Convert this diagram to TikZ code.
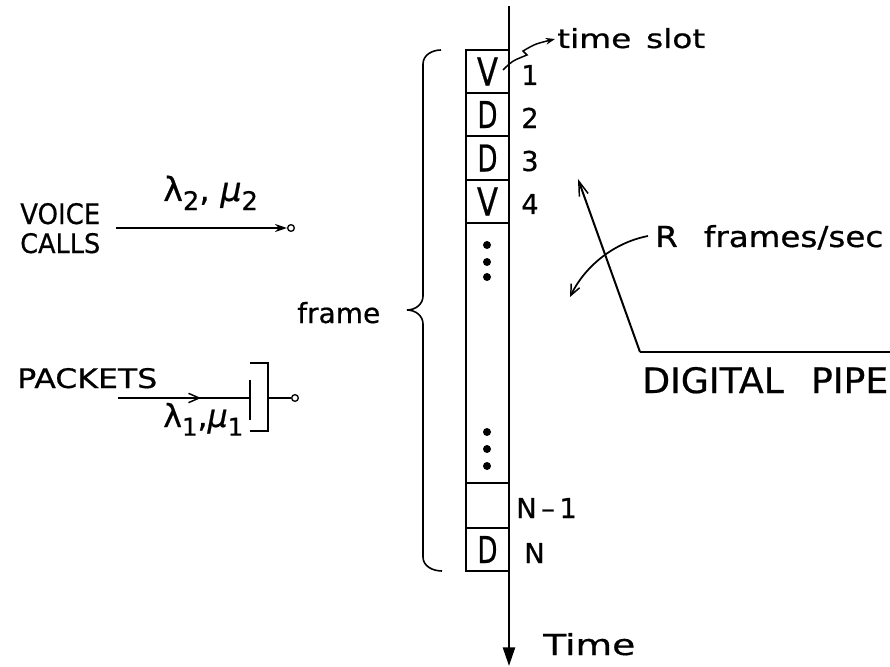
\documentclass[tikz,border=0pt]{standalone}
\usepackage{fontspec}
\usepackage{graphicx}
\setmainfont[FakeBold=0.6]{DejaVu Sans}
\usetikzlibrary{arrows.meta}
\newcommand{\fit}[3]{\resizebox{#1}{#2}{#3}}
\newcommand{\numf}{\fontsize{20.5}{24}\selectfont}
\newcommand{\grk}{\fontsize{22}{26}\selectfont}
\newcommand{\mysub}[1]{\raisebox{-6pt}{\fontsize{17}{17}\selectfont #1}}
\tikzset{
  txt/.style={inner sep=0pt, anchor=base west},
  num/.style={inner sep=0pt, anchor=base west, font=\numf},
  slot/.style={draw, line width=1.3pt, minimum width=32.25pt, inner sep=0pt},
  term/.style={circle, draw, line width=1pt, inner sep=0pt, minimum size=5pt},
  wire/.style={line width=1.5pt},
  dot/.style={circle, fill, inner sep=0pt, minimum size=6pt},
  barb/.style={-{Straight Barb[length=8pt,width=7pt,line width=1.1pt]}},
}
\begin{document}
\begin{tikzpicture}[x=0.75pt,y=-0.75pt]
\useasboundingbox (0,0) rectangle (890,667);
% slots
\node[slot, minimum height=32.25pt] (s1) at (487.5,71.5) {\fit{15.75pt}{21pt}{V}};
\node[slot, minimum height=32.25pt] (s2) at (487.5,114.5) {\fit{15pt}{20.25pt}{D}};
\node[slot, minimum height=33pt] (s3) at (487.5,158) {\fit{15pt}{20.25pt}{D}};
\node[slot, minimum height=32.25pt] (s4) at (487.5,201.5) {\fit{15.75pt}{21pt}{V}};
\node[slot, minimum height=195pt] (s5) at (487.5,353) {};
\node[slot, minimum height=33.75pt] (s6) at (487.5,505.5) {};
\node[slot, minimum height=32.25pt] (s7) at (487.5,549.5) {\fit{15pt}{20.25pt}{D}};
\foreach \y [count=\i] in {245,262,277,432,449,466} \node[dot] (d\i) at (487,\y) {};
% time axis
\coordinate (ttop) at (509,6);
\coordinate (tbot) at (509,666);
\draw[line width=1.9pt, -{Triangle[length=14pt,width=9pt]}] (ttop) -- (tbot);
% slot numbers
\node[num] (n1) at (521,85) {1};
\node[num] (n2) at (521,128) {2};
\node[num] (n3) at (521,171) {3};
\node[num] (n4) at (521,214) {4};
\node[num] (n5) at (516,518) {N\,–\,1};
\node[num] (n6) at (524,563) {N};
% time slot
\node[txt] (ts) at (557,48) {\fit{111pt}{15pt}{time\hspace{0.45em}slot}};
\coordinate (tsA) at (503,70);
\coordinate (tsB) at (555,39);
\draw[line width=1.1pt, -{Stealth[length=7pt,width=5pt]}] (tsA) .. controls (512,61) .. (527,55) -- (523,51) .. controls (535,44) .. (tsB);
% brace
\node[txt] (fr) at (297,323) {\fit{62.25pt}{15.75pt}{frame}};
\coordinate (bt) at (441,50);
\coordinate (bb) at (442,571);
\coordinate (bm) at (407,310);
\draw[line width=1.2pt] (bt) to[out=180,in=90] (423,64) -- (423,296) to[out=270,in=0] (bm) to[out=0,in=90] (423,324) -- (423,557) to[out=270,in=180] (bb);
% voice calls
\node[txt] (vo) at (20,224) {\fit{60pt}{15.75pt}{VOICE}};
\node[txt] (ca) at (20,253) {\fit{60pt}{15pt}{CALLS}};
\coordinate (va) at (116,228);
\node[term] (vt) at (291,228) {};
\draw[wire, -{Stealth[length=9pt,width=6pt]}] (va) -- (vt.west);
\node[txt] (vl) at (163,201) {\resizebox{71pt}{!}{\grk λ\mysub{2}, {\itshape μ}\mysub{2}}};
% packets
\node[txt] (pk) at (17,388) {\fit{105pt}{15pt}{PACKETS}};
\coordinate (pa) at (118,398);
\coordinate (pm) at (201,398);
\coordinate (pb) at (250,398);
\coordinate (bar1) at (250,380);
\coordinate (bar2) at (250,420);
\coordinate (br1) at (250,363);
\coordinate (br2) at (250,431);
\coordinate (brx) at (268,398);
\node[term] (pt) at (295,398) {};
\draw[wire] (pa) -- (pb);
\draw[wire, barb] (pa) -- (pm);
\draw[wire] (bar1) -- (bar2);
\draw[wire] (br1) -| (brx) |- (br2);
\draw[wire] (brx) -- (pt.west);
\node[txt] (pl) at (163,427) {\resizebox{60pt}{!}{\grk λ\mysub{1},{\itshape μ}\mysub{1}}};
% digital pipe
\coordinate (dtip) at (578,179);
\coordinate (dc) at (640,352);
\coordinate (de) at (890,352);
\draw[wire, -{Straight Barb[length=11pt,width=7pt,line width=1.1pt]}] (dc) -- (dtip);
\draw[wire] (dc) -- (de);
\node[txt] (dp) at (642,393) {\fit{184.5pt}{19.5pt}{DIGITAL\hspace{0.75em}PIPE}};
% R frames/sec
\node[txt] (rf) at (655,247) {\fit{171pt}{16.5pt}{R\hspace{0.8em}frames/sec}};
\coordinate (rs) at (648,236);
\coordinate (rtip) at (570,297);
\draw[line width=1.3pt, -{Straight Barb[length=8pt,width=7pt,line width=1.1pt]}] (rs) .. controls (612,243) and (584,268) .. (rtip);
% Time
\node[txt] (tm) at (543,655) {\fit{69pt}{16.5pt}{Time}};
\end{tikzpicture}
\end{document}
